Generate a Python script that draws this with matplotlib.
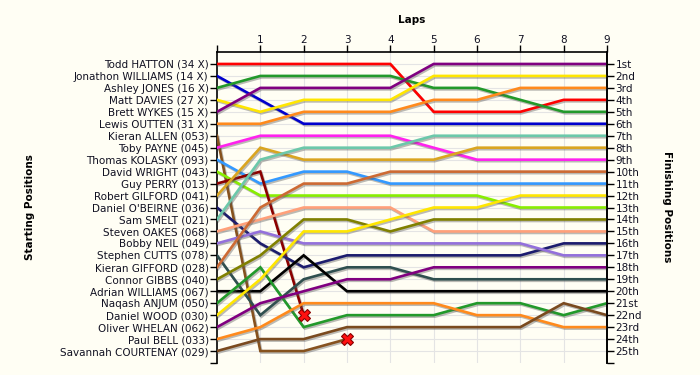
import matplotlib
matplotlib.use("Agg")
import matplotlib.pyplot as plt
import matplotlib.patheffects as pe
import numpy as np

plt.rcParams['font.family'] = ['DejaVu Sans']

drivers = ["Todd HATTON (34 X)", "Jonathon WILLIAMS (14 X)", "Ashley JONES (16 X)",
           "Matt DAVIES (27 X)", "Brett WYKES (15 X)", "Lewis OUTTEN (31 X)",
           "Kieran ALLEN (053)", "Toby PAYNE (045)", "Thomas KOLASKY (093)",
           "David WRIGHT (043)", "Guy PERRY (013)", "Robert GILFORD (041)",
           "Daniel O'BEIRNE (036)", "Sam SMELT (021)", "Steven OAKES (068)",
           "Bobby NEIL (049)", "Stephen CUTTS (078)", "Kieran GIFFORD (028)",
           "Connor GIBBS (040)", "Adrian WILLIAMS (067)", "Naqash ANJUM (050)",
           "Daniel WOOD (030)", "Oliver WHELAN (062)", "Paul BELL (033)",
           "Savannah COURTENAY (029)"]

# position at laps 0..9 (shorter list = retired)
positions = [
    [1, 1, 1, 1, 1, 5, 5, 5, 4, 4],
    [2, 4, 6, 6, 6, 6, 6, 6, 6, 6],
    [3, 2, 2, 2, 2, 3, 3, 4, 5, 5],
    [4, 5, 4, 4, 4, 2, 2, 2, 2, 2],
    [5, 3, 3, 3, 3, 1, 1, 1, 1, 1],
    [6, 6, 5, 5, 5, 4, 4, 3, 3, 3],
    [7, 25, 25, 24],
    [8, 7, 7, 7, 7, 8, 9, 9, 9, 9],
    [9, 11, 10, 10, 11, 11, 11, 11, 11, 11],
    [10, 12, 12, 12, 12, 12, 12, 13, 13, 13],
    [11, 10, 22],
    [12, 8, 9, 9, 9, 9, 8, 8, 8, 8],
    [13, 16, 18, 17, 17, 17, 17, 17, 16, 16],
    [14, 9, 8, 8, 8, 7, 7, 7, 7, 7],
    [15, 14, 13, 13, 13, 15, 15, 15, 15, 15],
    [16, 15, 16, 16, 16, 16, 16, 16, 17, 17],
    [17, 22, 19, 18, 18, 19, 19, 19, 19, 19],
    [18, 13, 11, 11, 10, 10, 10, 10, 10, 10],
    [19, 17, 14, 14, 15, 14, 14, 14, 14, 14],
    [20, 20, 17, 20, 20, 20, 20, 20, 20, 20],
    [21, 18, 23, 22, 22, 22, 21, 21, 22, 21],
    [22, 19, 15, 15, 14, 13, 13, 12, 12, 12],
    [23, 21, 20, 19, 19, 18, 18, 18, 18, 18],
    [24, 23, 21, 21, 21, 21, 22, 22, 23, 23],
    [25, 24, 24, 23, 23, 23, 23, 23, 21, 22],
]

colors = ["#FF0000", "#0000CD", "#22992A", "#FFE600", "#800080", "#FF8A1C",
          "#86521E", "#FF22EE", "#3399FF", "#88EE00", "#8B0000", "#DAA520",
          "#1C1C6E", "#6CC8AA", "#FFA07A", "#9370DB", "#2F4F4F", "#CD6A33",
          "#808000", "#000000", "#22992A", "#FFE600", "#800080", "#FF8A1C",
          "#7A4A1E"]

finish_labels = ["1st", "2nd", "3rd", "4th", "5th", "6th", "7th", "8th", "9th", "10th",
                 "11th", "12th", "13th", "14th", "15th", "16th", "17th", "18th", "19th",
                 "20th", "21st", "22nd", "23rd", "24th", "25th"]
lap_labels = ["", "1", "2", "3", "4", "5", "6", "7", "8", "9"]

bg = "#FFFEF4"
fig = plt.figure(figsize=(7, 3.75), dpi=100, facecolor=bg)
ax = fig.add_axes([217/700, 1-363/375, (607-217)/700, (363-52)/375], facecolor=bg)

n_rows = len(drivers)
n_laps = len(lap_labels) - 1

for i in range(1, n_laps):
    ax.axvline(i, color="#E4E4E4", lw=0.8, zorder=0)
for r in range(1, n_rows + 1):
    ax.axhline(r, color="#E4E4E4", lw=0.8, zorder=0)

shadow = [pe.SimpleLineShadow(offset=(0.9, -1.1), shadow_color="#555555", alpha=0.4),
          pe.Normal()]
for pos, c in zip(positions, colors):
    x = np.arange(len(pos))
    ax.plot(x, pos, color=c, lw=1.9, solid_joinstyle="miter", zorder=3,
            path_effects=shadow)
    if len(pos) < n_laps + 1:
        ax.plot(x[-1], pos[-1], marker="X", markersize=8, color="#FF1010",
                markeredgecolor="#880000", markeredgewidth=0.8, zorder=5)

ax.set_xlim(0, n_laps)
ax.set_ylim(n_rows + 1, 0)

ax.spines["bottom"].set_visible(False)
for s in ["left", "right", "top"]:
    ax.spines[s].set_color("black")
    ax.spines[s].set_linewidth(1.2)

ax.xaxis.set_ticks_position("top")
ax.set_xticks(range(n_laps + 1))
ax.set_xticklabels(lap_labels, fontsize=7.5, color="#111122")
ax.tick_params(axis="x", direction="out", length=5, width=1, pad=0)
ax.set_xlabel("Laps", fontsize=7.5, fontweight="bold", labelpad=9)
ax.xaxis.set_label_position("top")

yt = list(range(1, n_rows + 2))
ax.set_yticks(yt)
ax.set_yticklabels(drivers + [""], fontsize=7.5, color="#111122")
ax.tick_params(axis="y", direction="out", length=5, width=1, pad=1)

ax2 = ax.twinx()
ax2.set_ylim(n_rows + 1, 0)
ax2.set_yticks(yt)
ax2.set_yticklabels(finish_labels + [""], fontsize=7.5, color="#111122")
ax2.tick_params(axis="y", direction="out", length=5, width=1, pad=1)
ax2.spines["bottom"].set_visible(False)
ax2.spines["right"].set_linewidth(1.2)
ax2.spines["top"].set_visible(False)
ax2.spines["left"].set_visible(False)

fig.text(30/700, 1-207/375, "Starting Positions", rotation=90, fontsize=7.5,
         fontweight="bold", ha="center", va="center")
fig.text(667/700, 1-207/375, "Finishing Positions", rotation=270, fontsize=7.5,
         fontweight="bold", ha="center", va="center")

fig.savefig("out.png", dpi=100, facecolor=bg)
